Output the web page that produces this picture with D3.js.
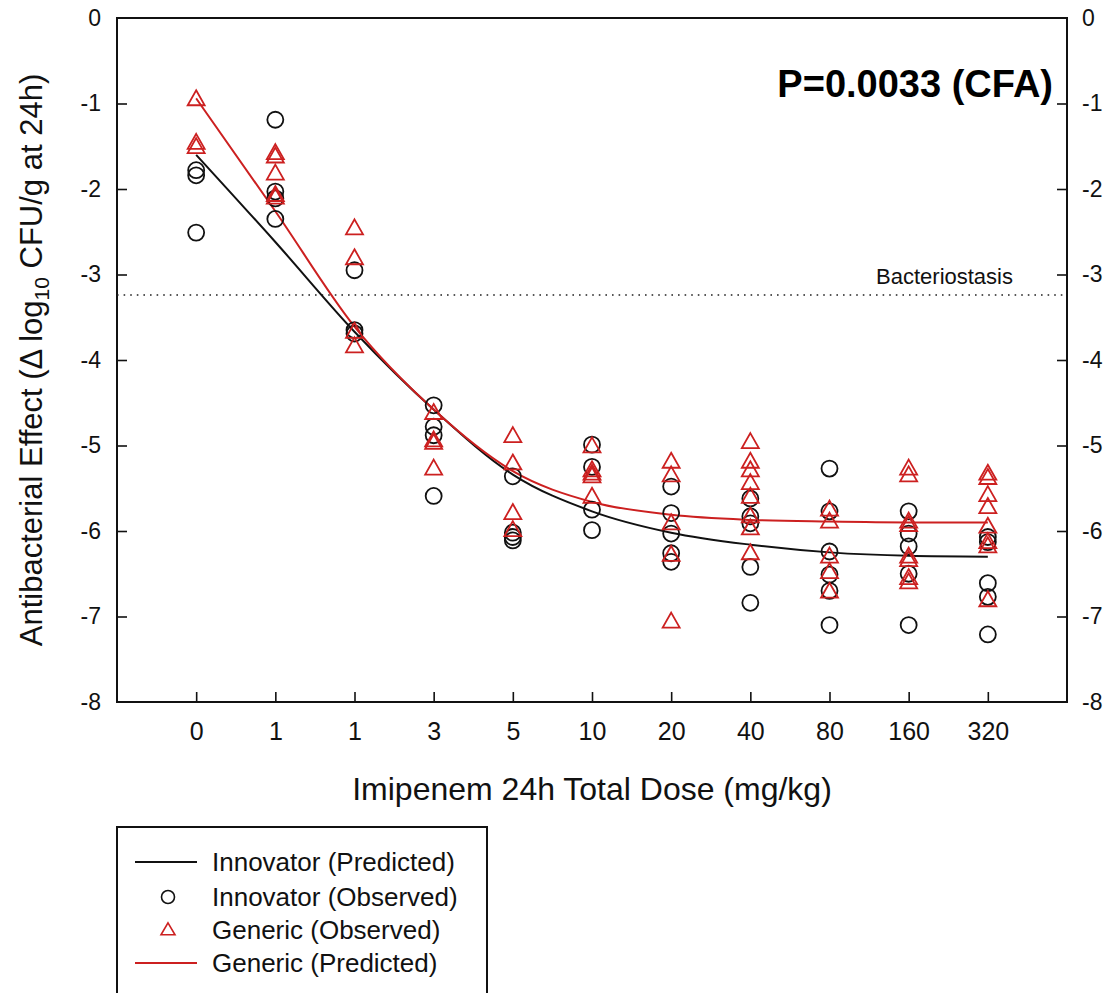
<!DOCTYPE html>
<html><head><meta charset="utf-8">
<script src="https://cdn.jsdelivr.net/npm/d3@7"></script>
<style>body{margin:0;background:#fff}svg{display:block}text{font-family:"Liberation Sans",Arial,sans-serif}</style>
</head><body><svg id="c" width="1120" height="993"></svg>
<script>
const doseLabels = ["0","1","1","3","5","10","20","40","80","160","320"];
const innovatorPred = [-1.60,-2.62,-3.67,-4.58,-5.34,-5.77,-6.02,-6.16,-6.25,-6.29,-6.30];
const genericPred   = [-0.94,-2.26,-3.61,-4.58,-5.30,-5.66,-5.81,-5.87,-5.89,-5.90,-5.90];
const innovatorObs = [
  [-1.78,-1.84,-2.51],
  [-1.19,-2.03,-2.11,-2.35],
  [-2.95,-3.65,-3.69],
  [-4.53,-4.78,-4.88,-5.59],
  [-5.36,-6.02,-6.07,-6.11],
  [-4.99,-5.25,-5.75,-5.99],
  [-5.48,-5.79,-6.03,-6.26,-6.36],
  [-5.62,-5.83,-5.91,-6.42,-6.84],
  [-5.27,-5.77,-6.24,-6.51,-6.70,-7.10],
  [-5.77,-6.03,-6.18,-6.50,-7.10],
  [-6.07,-6.13,-6.61,-6.77,-7.21]
];
const genericObs = [
  [-0.95,-1.46,-1.51],
  [-1.58,-1.62,-1.82,-2.07,-2.10],
  [-2.46,-2.81,-3.67,-3.84],
  [-4.62,-4.94,-4.97,-5.27],
  [-4.89,-5.21,-5.79,-5.99],
  [-5.01,-5.29,-5.33,-5.36,-5.60],
  [-5.19,-5.35,-5.91,-6.28,-7.06],
  [-4.96,-5.19,-5.29,-5.44,-5.60,-5.83,-5.97,-6.26],
  [-5.75,-5.89,-6.30,-6.48,-6.71],
  [-5.27,-5.35,-5.89,-5.93,-6.30,-6.34,-6.55,-6.60],
  [-5.33,-5.38,-5.58,-5.72,-5.95,-6.13,-6.18,-6.81]
];
const yTicks = [0,-1,-2,-3,-4,-5,-6,-7,-8];
const bacteriostasis = -3.24;
const legendItems = ["Innovator (Predicted)","Innovator (Observed)","Generic (Observed)","Generic (Predicted)"];

const RED = "#cc2020";
const svg = d3.select("#c");
const L=117, R=1067, T=18, B=702;
const x = d3.scaleLinear().domain([-1, doseLabels.length]).range([L,R]);
const y = d3.scaleLinear().domain([0,-8]).range([T,B]);
const fmt = d => String(d);

// axes
const gx = svg.append("g").attr("transform",`translate(0,${B})`)
  .call(d3.axisBottom(x).tickValues(d3.range(doseLabels.length)).tickFormat(i=>doseLabels[i]).tickSizeInner(-10).tickSizeOuter(0).tickPadding(20));
const gl = svg.append("g").attr("transform",`translate(${L},0)`)
  .call(d3.axisLeft(y).tickValues(yTicks).tickFormat(fmt).tickSizeInner(-10).tickSizeOuter(0).tickPadding(16));
const gr = svg.append("g").attr("transform",`translate(${R},0)`)
  .call(d3.axisRight(y).tickValues(yTicks).tickFormat(fmt).tickSizeInner(-10).tickSizeOuter(0).tickPadding(15));
[gx,gl,gr].forEach(g=>{
  g.select(".domain").remove();
  g.selectAll(".tick line").attr("stroke","#111").attr("stroke-width",1.6);
  g.selectAll(".tick text").attr("fill","#111").style("font-family",'"Liberation Sans",Arial,sans-serif');
});
gx.selectAll(".tick text").style("font-size","25px");
gl.selectAll(".tick text").style("font-size","23px");
gr.selectAll(".tick text").style("font-size","23px");
[gl,gr].forEach(g=>g.selectAll(".tick line").filter(d=>d===0||d===-8).remove());

svg.append("rect").attr("x",L).attr("y",T).attr("width",R-L).attr("height",B-T)
  .attr("fill","none").attr("stroke","#111").attr("stroke-width",2);

// bacteriostasis line
svg.append("line").attr("x1",L).attr("x2",R).attr("y1",y(bacteriostasis)).attr("y2",y(bacteriostasis))
  .attr("stroke","#222").attr("stroke-width",1.6).attr("stroke-dasharray","1.6,5");
svg.append("text").attr("x",1013).attr("y",y(bacteriostasis)-11).attr("text-anchor","end")
  .style("font-size","22px").attr("fill","#111").text("Bacteriostasis");

// P text
svg.append("text").attr("x",1053).attr("y",97).attr("text-anchor","end")
  .style("font-size","38px").style("font-weight","bold").attr("fill","#000").text("P=0.0033 (CFA)");

// predicted lines
const line = d3.line().x((d,i)=>x(i)).y(d=>y(d)).curve(d3.curveMonotoneX);
svg.append("path").datum(innovatorPred).attr("d",line).attr("fill","none").attr("stroke","#111").attr("stroke-width",2);
svg.append("path").datum(genericPred).attr("d",line).attr("fill","none").attr("stroke",RED).attr("stroke-width",2);

// observed
const circ = innovatorObs.flatMap((arr,i)=>arr.map(v=>({i,v})));
const tri  = genericObs.flatMap((arr,i)=>arr.map(v=>({i,v})));
svg.append("g").selectAll("circle").data(circ).join("circle")
  .attr("cx",d=>x(d.i)).attr("cy",d=>y(d.v)).attr("r",8)
  .attr("fill","none").attr("stroke","#111").attr("stroke-width",1.8);
const triPath = (w,h)=>`M0,${-h*0.6}L${w/2},${h*0.4}L${-w/2},${h*0.4}Z`;
svg.append("g").selectAll("path").data(tri).join("path")
  .attr("transform",d=>`translate(${x(d.i)},${y(d.v)})`).attr("d",triPath(17,15))
  .attr("fill","none").attr("stroke",RED).attr("stroke-width",1.8);

// axis titles
svg.append("text").attr("x",(L+R)/2).attr("y",800).attr("text-anchor","middle")
  .style("font-size","32px").attr("fill","#111").text("Imipenem 24h Total Dose (mg/kg)");
const yt = svg.append("text").attr("transform",`translate(42,${(T+B)/2}) rotate(-90)`).attr("text-anchor","middle")
  .style("font-size","31px").attr("fill","#111");
yt.append("tspan").text("Antibacterial Effect (\u0394 log");
yt.append("tspan").attr("dy",7).style("font-size","21px").text("10");
yt.append("tspan").attr("dy",-7).text(" CFU/g at 24h)");

// legend
const lg = svg.append("g");
lg.append("rect").attr("x",117).attr("y",827).attr("width",370).attr("height",180)
  .attr("fill","none").attr("stroke","#111").attr("stroke-width",2);
const rows=[862,897,930,963];
legendItems.forEach((t,k)=>{
  const cy=rows[k];
  if(k===0||k===3) lg.append("line").attr("x1",135).attr("x2",197).attr("y1",cy).attr("y2",cy)
    .attr("stroke",k===0?"#111":RED).attr("stroke-width",2);
  if(k===1) lg.append("circle").attr("cx",168).attr("cy",cy).attr("r",6.5).attr("fill","none").attr("stroke","#111").attr("stroke-width",1.6);
  if(k===2) lg.append("path").attr("transform",`translate(168,${cy})`).attr("d",triPath(14,12)).attr("fill","none").attr("stroke",RED).attr("stroke-width",1.6);
  lg.append("text").attr("x",212).attr("y",cy+9).style("font-size","26px").attr("fill","#111").text(t);
});
</script></body></html>
